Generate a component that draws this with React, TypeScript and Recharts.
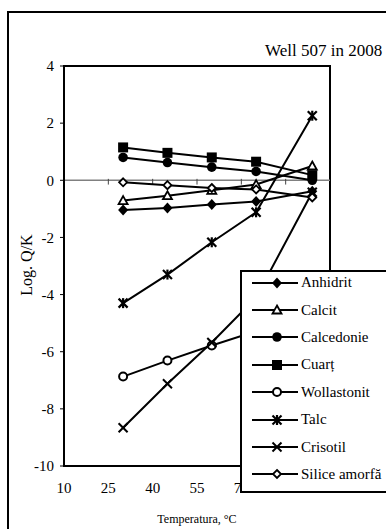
import React from "react";
import {
    LineChart,
    Line,
    XAxis,
    YAxis,
    ReferenceLine,
    ReferenceArea,
    Legend,
} from "recharts";

// temperatures (°C) of the sampled points
const temps = [30, 45, 60, 75, 94];

// log Q/K per mineral
const anhidrit = [-1.04, -0.97, -0.85, -0.74, -0.38];
const calcit = [-0.71, -0.54, -0.35, -0.15, 0.5];
const calcedonie = [0.8, 0.62, 0.46, 0.31, 0.0];
const cuart = [1.15, 0.96, 0.8, 0.65, 0.18];
const wollastonit = [-6.87, -6.31, -5.78, -5.28, -4.7];
const talc = [-4.3, -3.3, -2.17, -1.12, 2.26];
const crisotil = [-8.66, -7.12, -5.68, -4.1, -0.42];
const siliceAmorfa = [-0.07, -0.17, -0.27, -0.32, -0.6];

// labels 85 and 100 sit behind the legend in the original
const xTickLabels = [10, 25, 40, 55, 70];
const zeroLineTicks = [25, 40, 55, 70, 85];
const yTicks = [-10, -8, -6, -4, -2, 0, 2, 4];

type Shape = "diamond" | "triangle" | "circle" | "square" | "ocircle" | "star" | "cross" | "odiamond";

const series: { key: string; name: string; shape: Shape; values: number[] }[] = [
    {key: "anhidrit", name: "Anhidrit", shape: "diamond", values: anhidrit},
    {key: "calcit", name: "Calcit", shape: "triangle", values: calcit},
    {key: "calcedonie", name: "Calcedonie", shape: "circle", values: calcedonie},
    {key: "cuart", name: "Cuarț", shape: "square", values: cuart},
    {key: "wollastonit", name: "Wollastonit", shape: "ocircle", values: wollastonit},
    {key: "talc", name: "Talc", shape: "star", values: talc},
    {key: "crisotil", name: "Crisotil", shape: "cross", values: crisotil},
    {key: "silice", name: "Silice amorfă", shape: "odiamond", values: siliceAmorfa},
];

const data = temps.map((t, i) => {
    const row: any = {t};
    series.forEach(s => {
        row[s.key] = s.values[i];
    });
    return row;
});

const FONT = "'Liberation Serif', 'Times New Roman', serif";

const Mark = ({shape, cx, cy}: { shape: Shape; cx: number; cy: number }) => {
    switch (shape) {
        case "diamond":
            return <path d={`M${cx},${cy - 5.5}L${cx + 5},${cy}L${cx},${cy + 5.5}L${cx - 5},${cy}Z`} fill="#000"/>;
        case "triangle":
            return <path d={`M${cx},${cy - 4.5}L${cx + 4.5},${cy + 3.5}L${cx - 4.5},${cy + 3.5}Z`}
                         fill="#fff" stroke="#000" strokeWidth={1.8}/>;
        case "circle":
            return <circle cx={cx} cy={cy} r={4.8} fill="#000"/>;
        case "square":
            return <rect x={cx - 5} y={cy - 5} width={10} height={10} fill="#000"/>;
        case "ocircle":
            return <circle cx={cx} cy={cy} r={4} fill="#fff" stroke="#000" strokeWidth={2}/>;
        case "star":
            return (
                <g stroke="#000" strokeWidth={2.2}>
                    <line x1={cx - 4.5} y1={cy - 4.5} x2={cx + 4.5} y2={cy + 4.5}/>
                    <line x1={cx - 4.5} y1={cy + 4.5} x2={cx + 4.5} y2={cy - 4.5}/>
                    <line x1={cx} y1={cy - 5} x2={cx} y2={cy + 5}/>
                </g>
            );
        case "cross":
            return (
                <g stroke="#000" strokeWidth={2}>
                    <line x1={cx - 4.5} y1={cy - 4.5} x2={cx + 4.5} y2={cy + 4.5}/>
                    <line x1={cx - 4.5} y1={cy + 4.5} x2={cx + 4.5} y2={cy - 4.5}/>
                </g>
            );
        case "odiamond":
            return <path d={`M${cx},${cy - 4}L${cx + 4},${cy}L${cx},${cy + 4}L${cx - 4},${cy}Z`}
                         fill="#fff" stroke="#000" strokeWidth={1.8}/>;
    }
    return null;
};

const renderLegend = () => (
    <div style={{
        width: 160,
        height: 223,
        boxSizing: "border-box",
        border: "2px solid #000",
        background: "#fff",
        fontFamily: FONT,
        fontSize: 15,
        color: "#000",
    }}>
        <div style={{position: "relative", top: -3}}>
            {series.map(s => (
                <div key={s.key} style={{height: 27.4, display: "flex", alignItems: "center"}}>
                    <svg width={57} height={14} style={{display: "block"}}>
                        <line x1={10} y1={7} x2={56} y2={7} stroke="#000" strokeWidth={2}/>
                        <Mark shape={s.shape} cx={35} cy={7}/>
                    </svg>
                    <span style={{marginLeft: 2, whiteSpace: "nowrap"}}>{s.name}</span>
                </div>
            ))}
        </div>
    </div>
);

const App = () => {
    return (
        <div style={{position: "absolute", left: 0, top: 0, width: 386, height: 529, overflow: "hidden", background: "#fff"}}>
            <div style={{
                position: "absolute", left: 7, top: 11, width: 420, height: 600,
                border: "2px solid #000", boxSizing: "border-box",
            }}/>
            <div style={{position: "absolute", left: 0, top: 0}}>
                <LineChart
                    width={386}
                    height={529}
                    data={data}
                    margin={{top: 66, right: 56, bottom: 33, left: 24}}
                >
                    <ReferenceArea x1={10} x2={100} y1={-10} y2={4} fill="none" stroke="#000" strokeWidth={2}
                                   ifOverflow="visible"/>
                    <ReferenceLine y={0} stroke="#808080" strokeWidth={1.5}/>
                    {zeroLineTicks.map(t => (
                        <ReferenceLine key={t} segment={[{x: t, y: 0.05}, {x: t, y: -0.15}]} stroke="#444"
                                       strokeWidth={1}/>
                    ))}
                    <XAxis
                        dataKey="t"
                        type="number"
                        domain={[10, 100]}
                        ticks={xTickLabels}
                        interval={0}
                        axisLine={false}
                        tickLine={false}
                        tickSize={6}
                        tickMargin={10}
                        height={30}
                        tick={{fontFamily: FONT, fontSize: 15, fill: "#000"}}
                    />
                    <YAxis
                        type="number"
                        domain={[-10, 4]}
                        ticks={yTicks}
                        interval={0}
                        width={40}
                        axisLine={{stroke: "#000", strokeWidth: 2}}
                        tickLine={{stroke: "#000"}}
                        tickSize={4}
                        tickMargin={6}
                        tick={{fontFamily: FONT, fontSize: 15, fill: "#000"}}
                    />
                    {series.map(s => (
                        <Line
                            key={s.key}
                            dataKey={s.key}
                            name={s.name}
                            type="linear"
                            stroke="#000"
                            strokeWidth={2}
                            isAnimationActive={false}
                            dot={(p: any) => (
                                <g key={`${s.key}-${p.index}`}>
                                    <Mark shape={s.shape} cx={p.cx} cy={p.cy}/>
                                </g>
                            )}
                            activeDot={false}
                        />
                    ))}
                    <Legend
                        content={renderLegend}
                        layout="horizontal"
                        verticalAlign="middle"
                        align="center"
                        wrapperStyle={{left: 240, top: 270, width: 160, height: 223}}
                    />
                </LineChart>
            </div>
            <div style={{
                position: "absolute", left: 265, top: 42, fontFamily: FONT, fontSize: 17,
                lineHeight: 1, whiteSpace: "nowrap", color: "#000",
            }}>
                Well 507 in 2008
            </div>
            <div style={{
                position: "absolute", left: 27, top: 265, fontFamily: FONT, fontSize: 16,
                lineHeight: 1, whiteSpace: "nowrap", color: "#000",
                transform: "translate(-50%, -50%) rotate(-90deg)",
            }}>
                Log. Q/K
            </div>
            <div style={{
                position: "absolute", left: 197, top: 513, fontFamily: FONT, fontSize: 12,
                lineHeight: 1, whiteSpace: "nowrap", color: "#000", transform: "translateX(-50%)",
            }}>
                Temperatura, °C
            </div>
        </div>
    );
};

export default App;
